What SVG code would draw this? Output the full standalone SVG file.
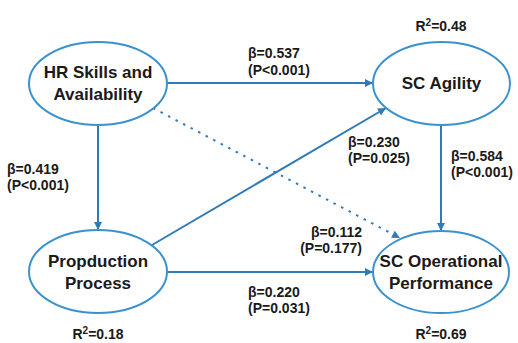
<svg xmlns="http://www.w3.org/2000/svg" width="518" height="343" viewBox="0 0 518 343">
<style>
.node{fill:#fff;stroke:#3b91cd;stroke-width:2}
.nt{font-family:"Liberation Sans",Arial,sans-serif;font-weight:bold;font-size:17px;fill:#1a1a1a;text-anchor:middle}
.lb{font-family:"Liberation Sans",Arial,sans-serif;font-weight:bold;font-size:14px;fill:#1a1a1a}
.ln{fill:none;stroke:#2f7bb8;stroke-width:2}
.dot{fill:none;stroke:#2f7bb8;stroke-width:2;stroke-dasharray:2.5 6}
</style>
<defs>
<marker id="ah" viewBox="0 0 10 10" refX="10" refY="5" markerWidth="9" markerHeight="8" markerUnits="userSpaceOnUse" orient="auto">
<path d="M0,0 L10,5 L0,10 Z" fill="#2f7bb8"/>
</marker>
</defs>
<rect width="518" height="343" fill="#fff"/>
<g id="connectors">
<line class="ln" x1="167" y1="83" x2="373" y2="83" marker-end="url(#ah)"/>
<line class="ln" x1="98" y1="125" x2="98" y2="230" marker-end="url(#ah)"/>
<line class="ln" x1="441" y1="125" x2="441" y2="231" marker-end="url(#ah)"/>
<line class="ln" x1="167" y1="272" x2="373" y2="272" marker-end="url(#ah)"/>
<line class="ln" x1="152" y1="245" x2="386" y2="108" marker-end="url(#ah)"/>
<line class="dot" x1="153" y1="108" x2="400" y2="238" marker-end="url(#ah)"/>
</g>
<g id="hr">
<ellipse class="node" cx="98" cy="83.5" rx="69" ry="41.5"/>
<text class="nt" x="98" y="78">HR Skills and</text>
<text class="nt" x="98" y="100">Availability</text>
</g>
<g id="agility">
<ellipse class="node" cx="441.5" cy="83.5" rx="68.5" ry="41.5"/>
<text class="nt" x="441.5" y="89">SC Agility</text>
</g>
<g id="production">
<ellipse class="node" cx="98" cy="271.5" rx="69" ry="41.5"/>
<text class="nt" x="98" y="267">Propduction</text>
<text class="nt" x="98" y="289">Process</text>
</g>
<g id="performance">
<ellipse class="node" cx="441" cy="272" rx="68" ry="41"/>
<text class="nt" x="441" y="267">SC Operational</text>
<text class="nt" x="441" y="289">Performance</text>
</g>
<g id="labels">
<text class="lb" x="248" y="58">β=0.537</text>
<text class="lb" x="248" y="75">(P&lt;0.001)</text>
<text class="lb" x="348" y="147">β=0.230</text>
<text class="lb" x="348" y="163">(P=0.025)</text>
<text class="lb" x="451" y="161">β=0.584</text>
<text class="lb" x="451" y="177">(P&lt;0.001)</text>
<text class="lb" x="7" y="174">β=0.419</text>
<text class="lb" x="7" y="190">(P&lt;0.001)</text>
<text class="lb" x="362" y="237" text-anchor="end">β=0.112</text>
<text class="lb" x="362" y="253" text-anchor="end">(P=0.177)</text>
<text class="lb" x="248" y="297">β=0.220</text>
<text class="lb" x="248" y="313">(P=0.031)</text>
<text class="lb" x="441" y="31" text-anchor="middle">R<tspan font-size="10" dy="-5">2</tspan><tspan dy="5">=0.48</tspan></text>
<text class="lb" x="441" y="339" text-anchor="middle">R<tspan font-size="10" dy="-5">2</tspan><tspan dy="5">=0.69</tspan></text>
<text class="lb" x="98" y="339" text-anchor="middle">R<tspan font-size="10" dy="-5">2</tspan><tspan dy="5">=0.18</tspan></text>
</g>
</svg>
